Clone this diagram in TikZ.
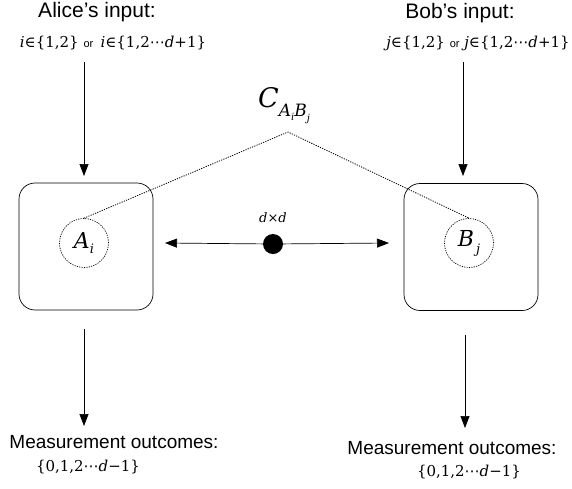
\documentclass[tikz,border=0pt]{standalone}
\usepackage{fontspec}
\setmainfont{Liberation Sans}
\newfontfamily\mf{DejaVu Serif}
\newfontfamily\dvs{DejaVu Sans}
\newcommand{\vv}[1]{{\mf\itshape #1}}
\newcommand{\cdt}{{\dvs ⋯}}
\usetikzlibrary{arrows.meta}
\begin{document}
\begin{tikzpicture}[x=1pt,y=-1pt,
  party/.style={draw,rounded corners=16pt,minimum width=134pt,minimum height=127pt,line width=0.7pt},
  port/.style={draw,circle,dash pattern=on 1.2pt off 1.2pt,minimum size=49pt,inner sep=0pt,line width=0.7pt},
  dots/.style={dash pattern=on 1.2pt off 1.2pt,line width=0.8pt},
  arr/.style={-{Triangle[length=12pt,width=9pt]},line width=0.7pt},
  lbl/.style={font=\fontsize{21}{23}\selectfont,inner sep=0pt},
  lbs/.style={font=\fontsize{19}{21}\selectfont,inner sep=0pt},
  mth/.style={font=\mf\fontsize{15}{17}\selectfont,inner sep=0pt}]
\useasboundingbox (0,0) rectangle (572,488);
% labels
\node[lbl] (alice) at (97,12) {Alice’s input:};
\node[mth] (ain) at (113,43) {\vv{i}∈\{1,2\} {\rmfamily\fontsize{11}{12}\selectfont or}\, \vv{i}∈\{1,2\cdt\vv{d}+1\}};
\node[lbl] (bob) at (460,13) {Bob’s input:};
\node[mth] (bin) at (478,43) {\vv{j}∈\{1,2\} {\rmfamily\fontsize{11}{12}\selectfont or} \vv{j}∈\{1,2\cdt\vv{d}+1\}};
% boxes
\node[party] (LA) at (86,246.5) {};
\node[party] (LB) at (471,247) {};
\node[port,font=\mf\fontsize{22}{24}\selectfont] (A) at (84,243) {\vv{A}\raisebox{-5pt}{\fontsize{13}{14}\selectfont\vv{i}}};
\node[port,font=\mf\fontsize{22}{24}\selectfont] (B) at (469,243) {\vv{B}\raisebox{-7pt}{\fontsize{13}{14}\selectfont\,\vv{j}}};
% correlation
\node[inner sep=0pt,font=\mf\fontsize{27}{29}\selectfont] (C) at (284,106) {\vv{C}\raisebox{-9pt}{\fontsize{17}{18}\selectfont\vv{A}\raisebox{-4pt}{\fontsize{10}{11}\selectfont\vv{i}}\vv{B}\raisebox{-5pt}{\fontsize{10}{11}\selectfont\vv{j}}}};
\coordinate (apex) at (288,132);
\draw[dots] (A.north) -- (apex) -- (B.north);
% source
\node[circle,fill=black,minimum size=20pt,inner sep=0pt] (S) at (273,244) {};
\node[mth,font=\mf\fontsize{13}{14}\selectfont] (dd) at (273,218) {\vv{d}×\vv{d}};
\coordinate (sl) at (165,243);
\coordinate (sr) at (389,243);
\draw[arr] (S) -- (sl);
\draw[arr] (S) -- (sr);
% inputs
\coordinate (ai) at (84,62);
\coordinate (bi) at (463,62);
\draw[arr] (ai) -- (84,176);
\draw[arr] (bi) -- (463,176);
% outputs
\node[lbs] (aout) at (114,442) {Measurement outcomes:};
\node[mth] (aoutm) at (88,467) {\{0,1,2\cdt\vv{d}−1\}};
\node[lbs] (bout) at (452,448) {Measurement outcomes:};
\node[mth] (boutm) at (469,472) {\{0,1,2\cdt\vv{d}−1\}};
\coordinate (ao) at (84,329);
\coordinate (bo) at (465,335);
\draw[arr] (ao) -- (84,426);
\draw[arr] (bo) -- (465,428);
\end{tikzpicture}
\end{document}
